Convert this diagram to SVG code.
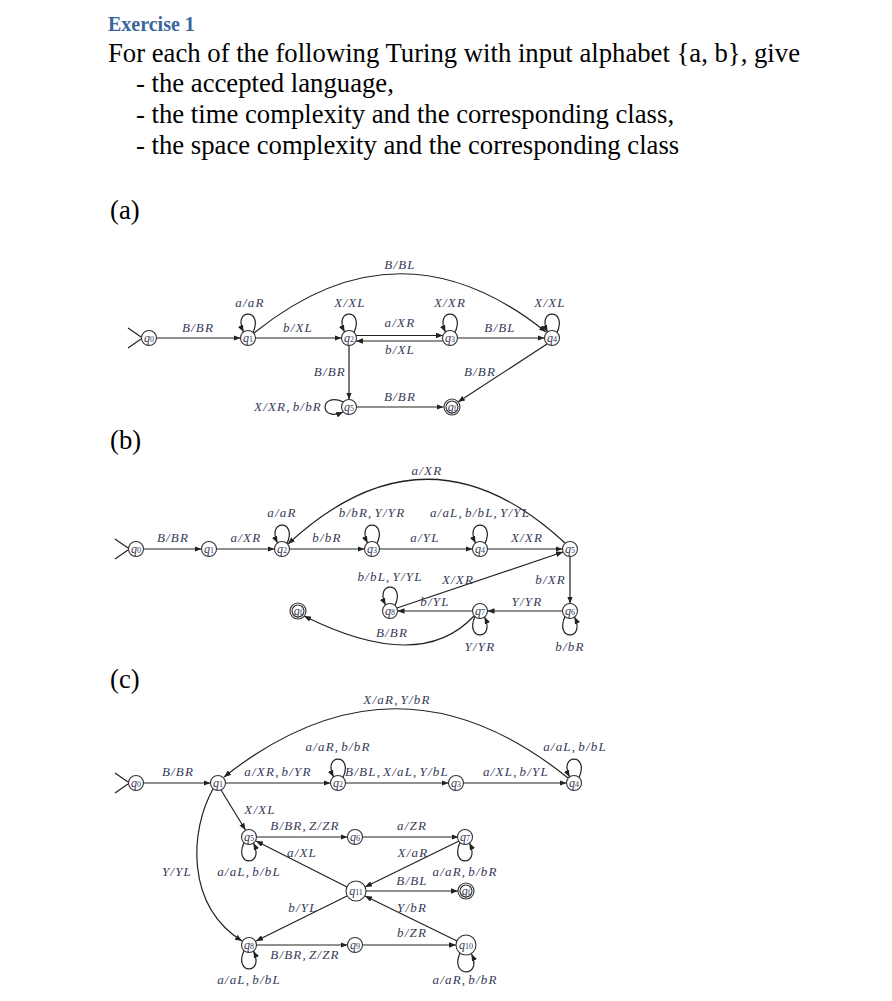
<svg xmlns="http://www.w3.org/2000/svg" width="892" height="1001" viewBox="0 0 892 1001">
<style>
.bg{fill:#ffffff}
.h{font-family:"Liberation Serif",serif;font-weight:bold;font-size:20px;fill:#3b669b}
.t{font-family:"Liberation Serif",serif;font-size:26.7px;fill:#000}
.e{fill:none;stroke:#222;stroke-width:1.2;marker-end:url(#arr)}
.s{fill:none;stroke:#222;stroke-width:1.2}
.n{fill:#fff;stroke:#333;stroke-width:1.1}
.l{font-family:"Liberation Serif",serif;font-style:italic;font-size:13px;letter-spacing:1.2px;word-spacing:-2.5px;fill:#363a58;text-anchor:middle}
.le{text-anchor:end}
.nl{font-family:"Liberation Serif",serif;font-style:italic;font-size:12px;fill:#363a58;text-anchor:middle}
.sub{font-size:8px;font-style:normal}
</style>
<defs>
<marker id="arr" viewBox="0 0 10 8" refX="10" refY="4" markerWidth="7" markerHeight="5.6" markerUnits="userSpaceOnUse" orient="auto"><path d="M0,0 L10,4 L0,8 z" fill="#222"/></marker>
</defs>
<rect class="bg" x="0" y="0" width="892" height="1001"/>

<g id="header">
<text class="h" x="108" y="31">Exercise 1</text>
<text class="t" x="108" y="62">For each of the following Turing with input alphabet {a, b}, give</text>
<text class="t" x="136" y="92">- the accepted language,</text>
<text class="t" x="136" y="123">- the time complexity and the corresponding class,</text>
<text class="t" x="136" y="154">- the space complexity and the corresponding class</text>
<text class="t" x="110" y="219">(a)</text>
<text class="t" x="110" y="449">(b)</text>
<text class="t" x="110" y="688">(c)</text>
</g>

<!-- ================= (a) ================= -->
<g id="a-connectors">
<path class="s" d="M128,328 L141,337 M128,348 L141,339"/>
<path class="e" d="M156.5,338 L240.5,338"/>
<path class="e" d="M255.5,338 L341.5,338"/>
<path class="e" d="M356,335.5 L443,335.5"/>
<path class="e" d="M443,341 L356,341"/>
<path class="e" d="M457.5,338 L544.5,338"/>
<path class="e" d="M349,345.5 L349,399.5"/>
<path class="e" d="M356.5,407 L443.5,407"/>
<path class="e" d="M547,344 L458,402"/>
<path class="e" d="M254,333 Q400,215 546,332"/>
<path class="e" d="M253,332.5 C264,308 232,308 243.5,332"/>
<path class="e" d="M354,332.5 C365,308 333,308 344.5,332"/>
<path class="e" d="M455,332.5 C466,308 434,308 445.5,332"/>
<path class="e" d="M557,332.5 C568,308 536,308 547.5,332"/>
<path class="e" d="M343.5,402 C319,391 319,423 343,412"/>
</g>
<g id="a-labels">
<text class="l" x="400" y="269">B/BL</text>
<text class="l" x="250" y="307">a/aR</text>
<text class="l" x="350" y="307">X/XL</text>
<text class="l" x="450" y="307">X/XR</text>
<text class="l" x="550" y="307">X/XL</text>
<text class="l" x="198" y="332">B/BR</text>
<text class="l" x="298" y="332">b/XL</text>
<text class="l" x="400" y="327">a/XR</text>
<text class="l" x="500" y="332">B/BL</text>
<text class="l" x="400" y="354">b/XL</text>
<text class="l le" x="346" y="376">B/BR</text>
<text class="l" x="480" y="376">B/BR</text>
<text class="l" x="400" y="401">B/BR</text>
<text class="l le" x="322" y="411">X/XR, b/bR</text>
</g>
<g id="a-q0"><circle class="n" cx="149" cy="338" r="7.5"/><text class="nl" x="149" y="341.5">q<tspan class="sub">0</tspan></text></g>
<g id="a-q1"><circle class="n" cx="248" cy="338" r="7.5"/><text class="nl" x="248" y="341.5">q<tspan class="sub">1</tspan></text></g>
<g id="a-q2"><circle class="n" cx="349" cy="338" r="7.5"/><text class="nl" x="349" y="341.5">q<tspan class="sub">2</tspan></text></g>
<g id="a-q3"><circle class="n" cx="450" cy="338" r="7.5"/><text class="nl" x="450" y="341.5">q<tspan class="sub">3</tspan></text></g>
<g id="a-q4"><circle class="n" cx="552" cy="338" r="7.5"/><text class="nl" x="552" y="341.5">q<tspan class="sub">4</tspan></text></g>
<g id="a-q5"><circle class="n" cx="349" cy="407" r="7.5"/><text class="nl" x="349" y="410.5">q<tspan class="sub">5</tspan></text></g>
<g id="a-qf"><circle class="n" cx="452" cy="407" r="8"/><circle class="n" cx="452" cy="407" r="6"/><text class="nl" x="452" y="410.5">q<tspan class="sub">f</tspan></text></g>

<!-- ================= (b) ================= -->
<g id="b-connectors">
<path class="s" d="M115,539 L128,548 M115,559 L128,550"/>
<path class="e" d="M143.5,549 L201.5,549"/>
<path class="e" d="M216.5,549 L274.5,549"/>
<path class="e" d="M289.5,549 L364.5,549"/>
<path class="e" d="M379.5,549 L472.5,549"/>
<path class="e" d="M487.5,549 L562.5,549"/>
<path class="e" d="M570,556.5 L570,603.5"/>
<path class="e" d="M562.5,611 L487.5,611"/>
<path class="e" d="M472.5,611 L397.5,611"/>
<path class="e" d="M397,608 L563,552"/>
<path class="e" d="M565,543 Q427,415 288,544"/>
<path class="e" d="M474,616 Q420,674 304,616"/>
<path class="e" d="M287,543.5 C298,519 266,519 277.5,543"/>
<path class="e" d="M377,543.5 C388,519 356,519 367.5,543"/>
<path class="e" d="M485,543.5 C496,519 464,519 475.5,543"/>
<path class="e" d="M395,605.5 C406,581 374,581 385.5,605"/>
<path class="e" d="M475,616.5 C464,641 496,641 484.5,617"/>
<path class="e" d="M565,616.5 C554,641 586,641 574.5,617"/>
</g>
<g id="b-labels">
<text class="l" x="427" y="475">a/XR</text>
<text class="l" x="282" y="517">a/aR</text>
<text class="l" x="372" y="517">b/bR, Y/YR</text>
<text class="l" x="480" y="517">a/aL, b/bL, Y/YL</text>
<text class="l" x="173" y="542">B/BR</text>
<text class="l" x="246" y="542">a/XR</text>
<text class="l" x="327" y="542">b/bR</text>
<text class="l" x="425" y="542">a/YL</text>
<text class="l" x="527" y="542">X/XR</text>
<text class="l" x="390" y="581">b/bL, Y/YL</text>
<text class="l" x="458" y="584">X/XR</text>
<text class="l le" x="566" y="584">b/XR</text>
<text class="l" x="435" y="606">b/YL</text>
<text class="l" x="527" y="606">Y/YR</text>
<text class="l" x="392" y="637">B/BR</text>
<text class="l" x="480" y="651">Y/YR</text>
<text class="l" x="570" y="651">b/bR</text>
</g>
<g id="b-q0"><circle class="n" cx="136" cy="549" r="7.5"/><text class="nl" x="136" y="552.5">q<tspan class="sub">0</tspan></text></g>
<g id="b-q1"><circle class="n" cx="209" cy="549" r="7.5"/><text class="nl" x="209" y="552.5">q<tspan class="sub">1</tspan></text></g>
<g id="b-q2"><circle class="n" cx="282" cy="549" r="7.5"/><text class="nl" x="282" y="552.5">q<tspan class="sub">2</tspan></text></g>
<g id="b-q3"><circle class="n" cx="372" cy="549" r="7.5"/><text class="nl" x="372" y="552.5">q<tspan class="sub">3</tspan></text></g>
<g id="b-q4"><circle class="n" cx="480" cy="549" r="7.5"/><text class="nl" x="480" y="552.5">q<tspan class="sub">4</tspan></text></g>
<g id="b-q5"><circle class="n" cx="570" cy="549" r="7.5"/><text class="nl" x="570" y="552.5">q<tspan class="sub">5</tspan></text></g>
<g id="b-q6"><circle class="n" cx="570" cy="611" r="7.5"/><text class="nl" x="570" y="614.5">q<tspan class="sub">6</tspan></text></g>
<g id="b-q7"><circle class="n" cx="480" cy="611" r="7.5"/><text class="nl" x="480" y="614.5">q<tspan class="sub">7</tspan></text></g>
<g id="b-q8"><circle class="n" cx="390" cy="611" r="7.5"/><text class="nl" x="390" y="614.5">q<tspan class="sub">8</tspan></text></g>
<g id="b-qf"><circle class="n" cx="298" cy="611" r="8"/><circle class="n" cx="298" cy="611" r="6"/><text class="nl" x="298" y="614.5">q<tspan class="sub">f</tspan></text></g>

<!-- ================= (c) ================= -->
<g id="c-connectors">
<path class="s" d="M115,773 L128,782 M115,793 L128,784"/>
<path class="e" d="M143.5,783 L210.5,783"/>
<path class="e" d="M225.5,783 L330.5,783"/>
<path class="e" d="M345.5,783 L448.5,783"/>
<path class="e" d="M463.5,783 L566.5,783"/>
<path class="e" d="M568,778 Q397,640 224,777"/>
<path class="e" d="M221,790 L245.5,830"/>
<path class="e" d="M213,789 C190,830 185,905 242,941"/>
<path class="e" d="M256.5,837 L347.5,837"/>
<path class="e" d="M362.5,837 L458.5,837"/>
<path class="e" d="M459,841 L365,887"/>
<path class="e" d="M347,887 L256,841"/>
<path class="e" d="M366,891 L458,891"/>
<path class="e" d="M347,896 L256,941"/>
<path class="e" d="M457,941 L365,896"/>
<path class="e" d="M256.5,945 L347.5,945"/>
<path class="e" d="M362.5,945 L456,945"/>
<path class="e" d="M343,777.5 C354,753 322,753 333.5,777"/>
<path class="e" d="M579,777.5 C590,753 558,753 569.5,777"/>
<path class="e" d="M244,842.5 C233,867 265,867 253.5,843"/>
<path class="e" d="M460,842.5 C449,867 481,867 469.5,843"/>
<path class="e" d="M244,950.5 C233,975 265,975 253.5,951"/>
<path class="e" d="M460,953 C449,978 483,978 471.5,954"/>
</g>
<g id="c-labels">
<text class="l" x="397" y="704">X/aR, Y/bR</text>
<text class="l" x="338" y="751">a/aR, b/bR</text>
<text class="l" x="575" y="751">a/aL, b/bL</text>
<text class="l" x="178" y="776">B/BR</text>
<text class="l" x="278" y="776">a/XR, b/YR</text>
<text class="l" x="397" y="776">B/BL, X/aL, Y/bL</text>
<text class="l" x="516" y="776">a/XL, b/YL</text>
<text class="l" x="260" y="814">X/XL</text>
<text class="l" x="305" y="830">B/BR, Z/ZR</text>
<text class="l" x="412" y="830">a/ZR</text>
<text class="l" x="302" y="857">a/XL</text>
<text class="l" x="413" y="857">X/aR</text>
<text class="l" x="177" y="876">Y/YL</text>
<text class="l" x="249" y="876">a/aL, b/bL</text>
<text class="l" x="465" y="876">a/aR, b/bR</text>
<text class="l" x="412" y="885">B/BL</text>
<text class="l" x="303" y="912">b/YL</text>
<text class="l" x="412" y="912">Y/bR</text>
<text class="l" x="412" y="937">b/ZR</text>
<text class="l" x="305" y="959">B/BR, Z/ZR</text>
<text class="l" x="249" y="984">a/aL, b/bL</text>
<text class="l" x="465" y="984">a/aR, b/bR</text>
</g>
<g id="c-q0"><circle class="n" cx="136" cy="783" r="7.5"/><text class="nl" x="136" y="786.5">q<tspan class="sub">0</tspan></text></g>
<g id="c-q1"><circle class="n" cx="218" cy="783" r="7.5"/><text class="nl" x="218" y="786.5">q<tspan class="sub">1</tspan></text></g>
<g id="c-q2"><circle class="n" cx="338" cy="783" r="7.5"/><text class="nl" x="338" y="786.5">q<tspan class="sub">2</tspan></text></g>
<g id="c-q3"><circle class="n" cx="456" cy="783" r="7.5"/><text class="nl" x="456" y="786.5">q<tspan class="sub">3</tspan></text></g>
<g id="c-q4"><circle class="n" cx="574" cy="783" r="7.5"/><text class="nl" x="574" y="786.5">q<tspan class="sub">4</tspan></text></g>
<g id="c-q5"><circle class="n" cx="249" cy="837" r="7.5"/><text class="nl" x="249" y="840.5">q<tspan class="sub">5</tspan></text></g>
<g id="c-q6"><circle class="n" cx="355" cy="837" r="7.5"/><text class="nl" x="355" y="840.5">q<tspan class="sub">6</tspan></text></g>
<g id="c-q7"><circle class="n" cx="465" cy="837" r="7.5"/><text class="nl" x="465" y="840.5">q<tspan class="sub">7</tspan></text></g>
<g id="c-q11"><circle class="n" cx="356" cy="891" r="10"/><text class="nl" x="356" y="894.5">q<tspan class="sub">11</tspan></text></g>
<g id="c-qf"><circle class="n" cx="466" cy="891" r="8"/><circle class="n" cx="466" cy="891" r="6"/><text class="nl" x="466" y="894.5">q<tspan class="sub">f</tspan></text></g>
<g id="c-q8"><circle class="n" cx="249" cy="945" r="7.5"/><text class="nl" x="249" y="948.5">q<tspan class="sub">8</tspan></text></g>
<g id="c-q9"><circle class="n" cx="355" cy="945" r="7.5"/><text class="nl" x="355" y="948.5">q<tspan class="sub">9</tspan></text></g>
<g id="c-q10"><circle class="n" cx="466" cy="945" r="10"/><text class="nl" x="466" y="948.5">q<tspan class="sub">10</tspan></text></g>
</svg>
